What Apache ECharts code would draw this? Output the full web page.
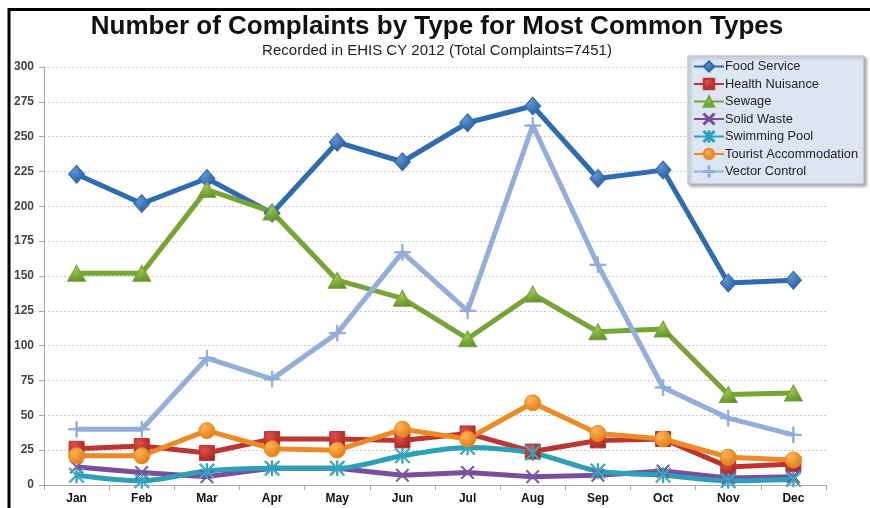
<!DOCTYPE html>
<html>
<head>
<meta charset="utf-8">
<script src="https://cdn.jsdelivr.net/npm/echarts@6/dist/echarts.min.js"></script>
<style>
  html, body { margin: 0; padding: 0; background: #ffffff; }
  #chart { width: 870px; height: 508px; }
</style>
</head>
<body>
<div id="chart"></div>
<script>
// Monthly complaint counts, EHIS CY 2012
const months = ['Jan', 'Feb', 'Mar', 'Apr', 'May', 'Jun', 'Jul', 'Aug', 'Sep', 'Oct', 'Nov', 'Dec'];
const yTicks = [0, 300, 25];

const foodService      = [223, 202, 220, 195, 246, 232, 260, 272, 220, 226, 145, 147];
const healthNuisance   = [26, 28, 23, 33, 33, 32, 37, 24, 32, 33, 13, 15];
const sewage           = [152, 152, 212, 196, 147, 134, 105, 137, 110, 112, 65, 66];
const solidWaste       = [13, 9, 6, 12, 12, 7, 9, 6, 7, 10, 5, 6];
const swimmingPool     = [7, 3, 10, 12, 12, 21, 27, 23, 10, 7, 3, 4];
const touristAccomm    = [21, 21, 39, 26, 25, 40, 33, 59, 37, 33, 20, 18];
const vectorControl    = [40, 40, 91, 76, 109, 167, 125, 258, 158, 70, 48, 36];

// marker shapes
const plusPath = 'path://M4.6,0 L5.4,0 L5.4,4.6 L10,4.6 L10,5.4 L5.4,5.4 L5.4,10 L4.6,10 L4.6,5.4 L0,5.4 L0,4.6 L4.6,4.6 Z';
const crossPath = 'path://M0,0.7 L0.7,0 L5,4.3 L9.3,0 L10,0.7 L5.7,5 L10,9.3 L9.3,10 L5,5.7 L0.7,10 L0,9.3 L4.3,5 Z';
const starPath = 'path://M0,0.7 L0.7,0 L5,4.3 L9.3,0 L10,0.7 L5.7,5 L10,9.3 L9.3,10 L5,5.7 L0.7,10 L0,9.3 L4.3,5 Z M4.6,0 L5.4,0 L5.4,10 L4.6,10 Z';

function grad(light, dark) {
  return new echarts.graphic.RadialGradient(0.35, 0.3, 0.8, [
    { offset: 0, color: light },
    { offset: 1, color: dark }
  ]);
}

function lineSeries(name, data, color, symbol, size, markerFill, extra) {
  return Object.assign({
    name: name,
    type: 'line',
    data: data,
    symbol: symbol,
    symbolSize: size,
    lineStyle: { width: 5, color: color },
    itemStyle: { color: markerFill, borderColor: color, borderWidth: 1 },
    emphasis: { disabled: true },
    z: 2
  }, extra || {});
}

const chart = echarts.init(document.getElementById('chart'), null, { renderer: 'canvas' });

chart.setOption({
  animation: false,
  backgroundColor: '#ffffff',
  title: {
    text: 'Number of Complaints by Type for Most Common Types',
    subtext: 'Recorded in EHIS CY 2012 (Total Complaints=7451)',
    left: 432,
    textAlign: 'center',
    top: 9,
    itemGap: 3,
    textStyle: { fontFamily: 'Liberation Sans, Arial, sans-serif', fontSize: 26, fontWeight: 'bold', color: '#111' },
    subtextStyle: { fontFamily: 'Liberation Sans, Arial, sans-serif', fontSize: 15, color: '#222' }
  },
  legend: {
    orient: 'vertical',
    left: 688,
    top: 56,
    padding: [4, 6, 6, 5],
    itemGap: 4.5,
    itemWidth: 30,
    itemHeight: 13,
    backgroundColor: '#dce6f2',
    borderColor: '#b0b8c4',
    borderWidth: 1,
    shadowColor: 'rgba(0,0,0,0.35)',
    shadowBlur: 3,
    shadowOffsetX: 2,
    shadowOffsetY: 2,
    textStyle: { fontFamily: 'Liberation Sans, Arial, sans-serif', fontSize: 12.8, color: '#222', padding: [0, 0, 0, -4] },
    data: ['Food Service', 'Health Nuisance', 'Sewage', 'Solid Waste', 'Swimming Pool', 'Tourist Accommodation', 'Vector Control']
  },
  grid: { left: 44, right: 44, top: 67, bottom: 23, containLabel: false },
  xAxis: {
    type: 'category',
    data: months,
    boundaryGap: true,
    axisLine: { lineStyle: { color: '#a8a8a8', width: 1 } },
    axisTick: { show: true, length: 5, lineStyle: { color: '#a8a8a8' } },
    axisLabel: { fontFamily: 'Liberation Sans, Arial, sans-serif', fontSize: 12, fontWeight: 'bold', color: '#111', margin: 8 },
    splitLine: { show: false }
  },
  yAxis: {
    type: 'value',
    min: yTicks[0],
    max: yTicks[1],
    interval: yTicks[2],
    axisLine: { show: true, lineStyle: { color: '#a8a8a8', width: 1 } },
    axisTick: { show: true, length: 5, lineStyle: { color: '#a8a8a8' } },
    axisLabel: { fontFamily: 'Liberation Sans, Arial, sans-serif', fontSize: 12, fontWeight: 'bold', color: '#444', margin: 10 },
    splitLine: { show: true, lineStyle: { color: '#c8c8c8', type: [2, 2], width: 1 } }
  },
  graphic: [
    { type: 'line', shape: { x1: 8, y1: 9.5, x2: 870, y2: 9.5 }, style: { stroke: '#000', lineWidth: 3 }, z: 100 },
    { type: 'line', shape: { x1: 9, y1: 8, x2: 9, y2: 508 }, style: { stroke: '#000', lineWidth: 3 }, z: 100 }
  ],
  series: [
    lineSeries('Food Service', foodService, '#2f6bb0', 'diamond', [16, 18], grad('#5f96d8', '#23579a')),
    lineSeries('Health Nuisance', healthNuisance, '#bd3530', 'rect', 15, grad('#e0504a', '#a02420')),
    lineSeries('Sewage', sewage, '#77a535', 'triangle', [18, 16], grad('#9cca55', '#5f8a22')),
    lineSeries('Solid Waste', solidWaste, '#7a4e9c', crossPath, 13, '#8a62ad'),
    lineSeries('Swimming Pool', swimmingPool, '#2ba0b7', starPath, 15, '#4fc0d6', { smooth: 0.3 }),
    lineSeries('Tourist Accommodation', touristAccomm, '#ee8a25', 'circle', 16, grad('#ffb655', '#de7410')),
    lineSeries('Vector Control', vectorControl, '#92aedb', plusPath, 16, '#8aa8d8')
  ]
});
</script>
</body>
</html>
